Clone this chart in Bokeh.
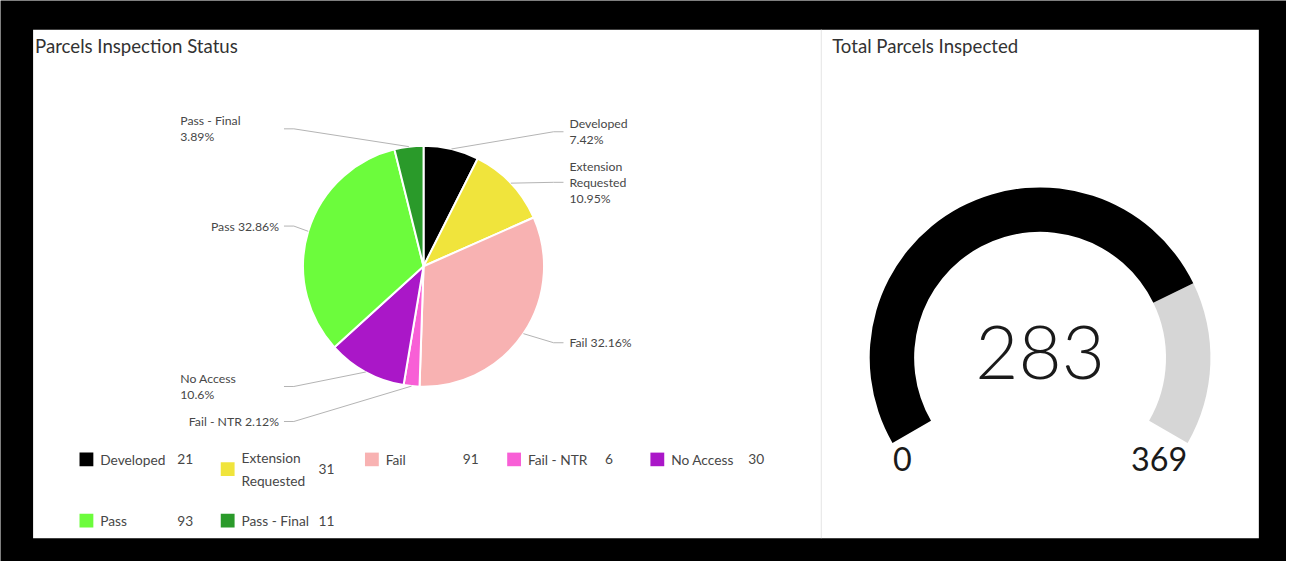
import math
from bokeh.plotting import figure
from bokeh.models import Range1d, ColumnDataSource
from bokeh.core.properties import value
from bokeh.embed import file_html
from bokeh.resources import INLINE

# ---------------- data ----------------
categories = ["Developed", "Extension Requested", "Fail", "Fail - NTR", "No Access", "Pass", "Pass - Final"]
counts = [21, 31, 91, 6, 30, 93, 11]
colors = ["#000000", "#f0e43c", "#f8b2b2", "#f85fd6", "#aa17c8", "#6cfc3c", "#2a9a2a"]
pie_labels = ["Developed\n7.42%", "Extension\nRequested\n10.95%", "Fail 32.16%", "Fail - NTR 2.12%",
              "No Access\n10.6%", "Pass 32.86%", "Pass - Final\n3.89%"]
legend_labels = ["Developed", "Extension\nRequested", "Fail", "Fail - NTR", "No Access", "Pass", "Pass - Final"]
gauge_value = 283
gauge_min = 0
gauge_max = 369

FONT = value("Lato")
W, H = 1302, 577          # reference canvas (data units)
FW, FH = 1286, 561        # figure size in pixels
SX, SY = FW / W, FH / H
FS = (SX + SY) / 2        # font scale


def Y(v):
    return H - v


def px(n):
    return f"{n * FS:.2f}px"


p = figure(width=FW, height=FH, x_range=Range1d(0, W), y_range=Range1d(0, H),
           output_backend="svg", toolbar_location=None, min_border=0)
p.axis.visible = False
p.grid.visible = False
p.outline_line_color = None
p.background_fill_color = "#000000"
p.border_fill_color = "#000000"

# white panel and divider
p.quad(left=[33], right=[1274], top=[Y(30)], bottom=[Y(553)], color="#ffffff", line_color=None)
p.segment(x0=[831], y0=[Y(30)], x1=[831], y1=[Y(553)], line_color="#e4e4e4", line_width=1)

# titles
p.text(x=[35], y=[Y(47)], text=["Parcels Inspection Status"], text_font=FONT, text_font_size=px(19),
       text_color="#323232", text_baseline="middle", text_align="left")
p.text(x=[842], y=[Y(47)], text=["Total Parcels Inspected"], text_font=FONT, text_font_size=px(19),
       text_color="#323232", text_baseline="middle", text_align="left")

# ---------------- pie ----------------
cx, cy, R = 428.3, Y(273.3), 122
total = sum(counts)
starts, ends, mids = [], [], []
cum = 0
for c in counts:
    a0 = math.pi / 2 - 2 * math.pi * (cum + c) / total
    a1 = math.pi / 2 - 2 * math.pi * cum / total
    starts.append(a0)
    ends.append(a1)
    mids.append((a0 + a1) / 2)
    cum += c

src = ColumnDataSource(dict(start=starts, end=ends, color=colors))
p.wedge(x=cx, y=cy, radius=R, start_angle="start", end_angle="end", fill_color="color",
        line_color="#ffffff", line_width=2, source=src)

# label layout: (line end x, line end y, text x, align)
label_layout = [
    (570, 135, 576, "left"),
    (570, 187, 576, "left"),
    (570, 352, 576, "left"),
    (287, 433, 282, "right"),
    (287, 397, 182, "left"),
    (287, 232, 282, "right"),
    (287, 132, 182, "left"),
]
xs, ys = [], []
for m, (lx, ly, tx, al) in zip(mids, label_layout):
    ax, ay = cx + R * math.cos(m), cy + R * (SX / SY) * math.sin(m)
    ex = lx + (-10 if lx > cx else 10)
    xs.append([ax, ex, lx])
    ys.append([ay, Y(ly), Y(ly)])
p.multi_line(xs=xs, ys=ys, line_color="#b4b4b4", line_width=1)
for lab, (lx, ly, tx, al) in zip(pie_labels, label_layout):
    p.text(x=[tx], y=[Y(ly)], text=[lab], text_font=FONT, text_font_size=px(12.5), text_color="#474747",
           text_align=al, text_baseline="middle", text_line_height=1.07)

# ---------------- legend ----------------
col_x = [80, 223, 369, 513, 658]
for i, (lab, c, col) in enumerate(zip(legend_labels, counts, colors)):
    r, k = divmod(i, 5)
    x0 = col_x[k]
    yy = 472 if r == 0 else 535
    sy = yy + (10 if "\n" in lab else 0)
    p.rect(x=[x0 + 7], y=[Y(sy)], width=14, height=14, fill_color=col, line_color=None)
    p.text(x=[x0 + 21], y=[Y(sy)], text=[lab], text_font=FONT, text_font_size=px(14), text_color="#474747",
           text_align="left", text_baseline="middle", text_line_height=1.31)
    p.text(x=[x0 + 99], y=[Y(sy)], text=[str(c)], text_font=FONT, text_font_size=px(14), text_color="#474747",
           text_align="left", text_baseline="middle")

# ---------------- gauge ----------------
gx, gy = 1052.5, Y(367.5)
a_start = math.radians(210)
a_end = math.radians(-30)
frac = (gauge_value - gauge_min) / (gauge_max - gauge_min)
a_val = a_start - (a_start - a_end) * frac
p.annular_wedge(x=gx, y=gy, inner_radius=127.5, outer_radius=172.5, start_angle=a_end, end_angle=a_val,
                fill_color="#d6d6d6", line_color=None)
p.annular_wedge(x=gx, y=gy, inner_radius=127.5, outer_radius=172.5, start_angle=a_val, end_angle=a_start,
                fill_color="#000000", line_color=None)
p.text(x=[gx], y=[Y(362)], text=[str(gauge_value)], text_font=value("Lato Light"), text_font_size=px(76),
       text_color="#1a1a1a", text_align="center", text_baseline="middle")
p.text(x=[913], y=[Y(472)], text=[str(gauge_min)], text_font=FONT, text_font_size=px(33),
       text_color="#1a1a1a", text_align="center", text_baseline="middle")
p.text(x=[1173], y=[Y(472)], text=[str(gauge_max)], text_font=FONT, text_font_size=px(33),
       text_color="#1a1a1a", text_align="center", text_baseline="middle")

open("out.html", "w").write(file_html(p, INLINE))
